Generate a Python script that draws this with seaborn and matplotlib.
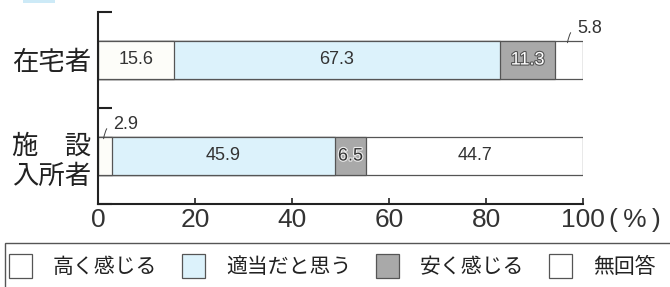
import numpy as np
import pandas as pd
import matplotlib
matplotlib.use('Agg')
import matplotlib.pyplot as plt
import matplotlib.patheffects as pe
from matplotlib.patches import Patch, Rectangle
import seaborn as sns

# data
groups = ['在宅者', '施設入所者']
group_labels = ['在宅者', '施　設\n入所者']
answers = ['高く感じる', '適当だと思う', '安く感じる', '無回答']
home = [15.6, 67.3, 11.3, 5.8]
facility = [2.9, 45.9, 6.5, 44.7]
xticks = [0, 20, 40, 60, 80, 100]

colors = ['#fdfdf9', '#dcf2fb', '#a9a9a9', '#ffffff']
edge = '#555555'

sns.set_theme(style='white')
plt.rcParams['font.family'] = ['Liberation Sans', 'Noto Sans CJK JP']

df = pd.DataFrame([home, facility], index=groups, columns=answers)
cum = df.cumsum(axis=1)

fig = plt.figure(figsize=(6.7, 2.87), dpi=100)
ax = fig.add_axes([98 / 670, 1 - 204 / 287, 485 / 670, 192 / 287])

# stacked bars: draw cumulative totals from the longest down
for k in reversed(range(len(answers))):
    sns.barplot(x=cum[answers[k]].values, y=groups, order=groups, orient='h',
                color=colors[k], saturation=1, width=0.4,
                edgecolor=edge, linewidth=0.9, ax=ax)

bar_h = 0.4
for i, g in enumerate(groups):
    for k, a in enumerate(answers):
        v = df.loc[g, a]
        mid = cum.loc[g, a] - v / 2
        if v < 6:
            # small segment: label above with a leader
            ax.annotate(f'{v:.1f}', xy=(mid - 0.3, i - bar_h / 2 + 0.02),
                        xytext=(7, 10.5), textcoords='offset points',
                        ha='left', va='center', fontsize=13, color='#333333',
                        arrowprops=dict(arrowstyle='-', lw=0.7, color='#444444',
                                        relpos=(0, 0.5), shrinkA=3.5, shrinkB=0,
                                        connectionstyle='angle3,angleA=0,angleB=80'))
        elif k == 2 and v > 10:
            ax.text(mid, i, f'{v:.1f}', ha='center', va='center', fontsize=13,
                    color='white',
                    path_effects=[pe.withStroke(linewidth=1.6, foreground='#555555')])
        elif k == 2:
            ax.text(mid, i, f'{v:.1f}', ha='center', va='center', fontsize=13,
                    color='#333333',
                    path_effects=[pe.withStroke(linewidth=1.6, foreground='#eeeeee')])
        else:
            ax.text(mid, i, f'{v:.1f}', ha='center', va='center', fontsize=13,
                    color='#333333')

ax.set_xlim(0, 100)
ax.set_ylim(1.5, -0.5)
ax.set_xlabel('')
ax.set_ylabel('')
ax.set_xticks(xticks)
ax.set_xticklabels([str(t) for t in xticks])
ax.set_yticks(range(len(groups)))
ax.set_yticklabels(group_labels)
ax.set_yticks([-0.5, 0.5, 1.5], minor=True)
for t in ax.get_yticklabels():
    t.set_linespacing(1.3)

ax.tick_params(axis='x', which='major', bottom=True, direction='in', length=4,
               width=1.2, color='#222222', pad=3, labelsize=19, labelcolor='#333333')
ax.tick_params(axis='y', which='major', left=True, length=0, pad=5,
               labelsize=19, labelcolor='#222222')
ax.tick_params(axis='y', which='minor', left=True, direction='in', length=10,
               width=1.5, color='#222222')

for s in ['top', 'right']:
    ax.spines[s].set_visible(False)
for s in ['left', 'bottom']:
    ax.spines[s].set_color('#222222')
    ax.spines[s].set_linewidth(1.5)

ax.annotate('(\u2009%\u2009)', xy=(100, 0), xycoords=('data', 'axes fraction'),
            xytext=(19, -3), textcoords='offset points', ha='left', va='top',
            fontsize=19, color='#333333')

# legend and its frame
handles = [Patch(facecolor=c, edgecolor=edge, linewidth=0.9) for c in ['#ffffff', colors[1], colors[2], '#ffffff']]
leg = fig.legend(handles, answers, loc='center left',
                 bbox_to_anchor=(9 / 670, 1 - 266 / 287), ncol=4, frameon=False,
                 fontsize=15, handlelength=1.1, handleheight=1.4,
                 handletextpad=1.0, columnspacing=1.2, borderpad=0, borderaxespad=0)
for t in leg.get_texts():
    t.set_color('#222222')
fig.patches.append(Rectangle((5 / 670, -0.05), 1.0, 1 - 243 / 287 + 0.05,
                             transform=fig.transFigure, fill=False,
                             edgecolor='#555555', linewidth=1.0))
# small header mark cut off at the top
fig.patches.append(Rectangle((23 / 670, 1 - 3 / 287), 32 / 670, 0.02,
                             transform=fig.transFigure, facecolor='#cdeaf7',
                             linewidth=0))

fig.savefig('out.png', dpi=100)
